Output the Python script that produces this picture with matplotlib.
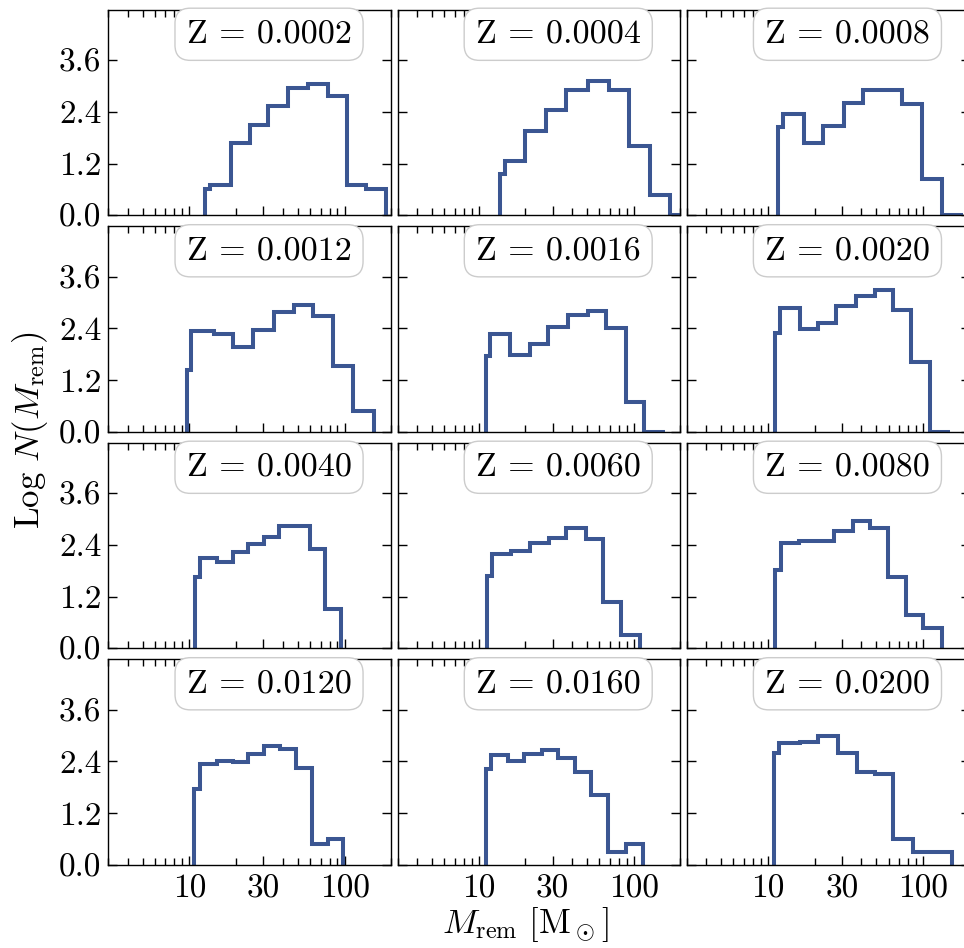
import numpy as np
import matplotlib
matplotlib.use("Agg")
import matplotlib.pyplot as plt
from matplotlib.ticker import FixedLocator, LogLocator, NullFormatter, FormatStrFormatter

plt.rcParams['font.family'] = 'serif'
plt.rcParams['font.serif'] = ['cmr10', 'DejaVu Serif']
plt.rcParams['mathtext.fontset'] = 'cm'
plt.rcParams['axes.formatter.use_mathtext'] = True
plt.rcParams['axes.unicode_minus'] = False

# ---------------- data ----------------
Z_LABELS = ['0.0002', '0.0004', '0.0008', '0.0012', '0.0016', '0.0020',
            '0.0040', '0.0060', '0.0080', '0.0120', '0.0160', '0.0200']

edges_0002 = [12.6, 13.6, 18.6, 24.7, 32.3, 43.5, 58.5, 78.7, 103.6, 138, 186]
logn_0002 = [0.60, 0.70, 1.67, 2.09, 2.54, 2.96, 3.05, 2.76, 0.70, 0.60]

edges_0004 = [13.65, 14.7, 20.0, 27.2, 36.7, 50.6, 69.0, 93.0, 127.6, 172, 232]
logn_0004 = [0.95, 1.26, 1.95, 2.44, 2.92, 3.13, 2.92, 1.61, 0.48, 0.0]

edges_0008 = [11.7, 12.6, 17.0, 22.8, 30.8, 40.9, 54.2, 73.0, 98.3, 132.2, 182]
logn_0008 = [2.06, 2.35, 1.67, 2.08, 2.61, 2.92, 2.92, 2.59, 0.85, 0.0]

edges_0012 = [9.6, 10.3, 14.3, 19.2, 25.8, 35.1, 47.3, 63.0, 84.8, 114.1, 153.8]
logn_0012 = [1.44, 2.35, 2.26, 1.96, 2.37, 2.78, 2.94, 2.70, 1.53, 0.48]

edges_0016 = [11.1, 11.9, 16.0, 21.3, 28.2, 37.6, 50.6, 66.4, 88.5, 117.2, 158.3]
logn_0016 = [1.75, 2.28, 1.79, 2.05, 2.43, 2.72, 2.81, 2.41, 0.70, 0.0]

edges_0020 = [11.1, 12.0, 16.0, 21.2, 27.7, 37.0, 49.2, 63.9, 84.0, 111.5, 150]
logn_0020 = [2.29, 2.88, 2.39, 2.53, 2.92, 3.16, 3.29, 2.84, 1.63, 0.0]

edges_0040 = [10.85, 11.7, 15.0, 19.2, 24.0, 30.3, 38.0, 48.0, 60.0, 75.0, 94.5]
logn_0040 = [1.65, 2.09, 2.01, 2.24, 2.42, 2.58, 2.84, 2.84, 2.31, 0.90]

edges_0060 = [11.3, 12.2, 16.2, 21.3, 28.3, 36.7, 49.0, 63.3, 83.3, 109.2]
logn_0060 = [1.68, 2.18, 2.26, 2.44, 2.57, 2.79, 2.54, 1.08, 0.30]

edges_0080 = [11.1, 12.1, 15.9, 20.7, 26.8, 35.2, 45.6, 59.3, 78.0, 100.5, 132.2]
logn_0080 = [1.82, 2.44, 2.49, 2.49, 2.73, 2.96, 2.79, 1.66, 0.78, 0.48]

edges_0120 = [10.75, 11.7, 15.0, 19.2, 24.0, 30.3, 38.4, 48.7, 61.3, 78.0, 98.3]
logn_0120 = [1.76, 2.35, 2.42, 2.38, 2.58, 2.75, 2.68, 2.25, 0.48, 0.60]

edges_0160 = [11.1, 12.1, 15.4, 19.7, 25.7, 32.4, 41.5, 53.2, 68.7, 88.5, 114.6]
logn_0160 = [2.23, 2.54, 2.42, 2.58, 2.66, 2.48, 2.15, 1.63, 0.30, 0.48]

edges_0200 = [10.97, 11.85, 16.0, 21.2, 28.2, 37.4, 49.2, 64.4, 86.0, 114.0, 153.8]
logn_0200 = [2.60, 2.83, 2.85, 3.00, 2.60, 2.15, 2.12, 0.60, 0.30, 0.30]

ALL_EDGES = [edges_0002, edges_0004, edges_0008, edges_0012, edges_0016, edges_0020,
             edges_0040, edges_0060, edges_0080, edges_0120, edges_0160, edges_0200]
ALL_LOGN = [logn_0002, logn_0004, logn_0008, logn_0012, logn_0016, logn_0020,
            logn_0040, logn_0060, logn_0080, logn_0120, logn_0160, logn_0200]

YTICKS = [0.0, 1.2, 2.4, 3.6]
XTICKS = [10, 30, 100]
XTICK_LABELS = ['10', '30', '100']

# ---------------- layout ----------------
W, H = 964, 948
fig = plt.figure(figsize=(W / 100, H / 100), dpi=100)

LINE_COLOR = '#3b5692'
col_left0, col_pitch, ax_w = 108.3, 289.2, 283.0
row_top0, row_pitch, ax_h = 9.6, 216.5, 205.6

for i in range(12):
    r, c = divmod(i, 3)
    left = (col_left0 + c * col_pitch) / W
    bottom = 1 - (row_top0 + r * row_pitch + ax_h) / H
    ax = fig.add_axes([left, bottom, ax_w / W, ax_h / H])

    ax.stairs(ALL_LOGN[i], ALL_EDGES[i], baseline=0, color=LINE_COLOR,
              linewidth=2.9, zorder=2)

    ax.set_xscale('log')
    ax.set_xlim(3, 200)
    ax.set_ylim(0, 4.78)

    ax.yaxis.set_major_locator(FixedLocator(YTICKS))
    ax.yaxis.set_major_formatter(FormatStrFormatter('%.1f'))
    ax.set_xticks(XTICKS, labels=XTICK_LABELS)
    ax.xaxis.set_minor_locator(LogLocator(base=10, subs=np.arange(2, 10), numticks=20))
    ax.xaxis.set_minor_formatter(NullFormatter())

    ax.tick_params(which='both', direction='in', top=True, right=True,
                   labelsize=24, width=1.0)
    ax.tick_params(which='major', length=6.5)
    ax.tick_params(which='minor', length=5)
    ax.tick_params(axis='y', pad=5)
    ax.tick_params(axis='x', pad=7)
    for sp in ax.spines.values():
        sp.set_linewidth(1.0)

    if r < 3:
        ax.tick_params(labelbottom=False)
    if c > 0:
        ax.tick_params(labelleft=False)

    ax.text(0.568, 0.88, 'Z = ' + Z_LABELS[i], transform=ax.transAxes,
            ha='center', va='center', fontsize=24.5, zorder=5,
            family=['cmr10', 'DejaVu Serif'],
            bbox=dict(boxstyle='round,pad=0.34,rounding_size=0.45',
                      facecolor='white', edgecolor='#cccccc', linewidth=1.0),
            clip_on=False)

fig.text(30 / W, 1 - 430 / H, r'Log $N(M_{\rm rem})$', rotation=90,
         ha='center', va='center', fontsize=25)
fig.text(525 / W, 1 - 925 / H, r'$M_{\rm rem}\ [\rm M_\odot]$',
         ha='center', va='center', fontsize=25)

fig.savefig('out.png', dpi=100)
